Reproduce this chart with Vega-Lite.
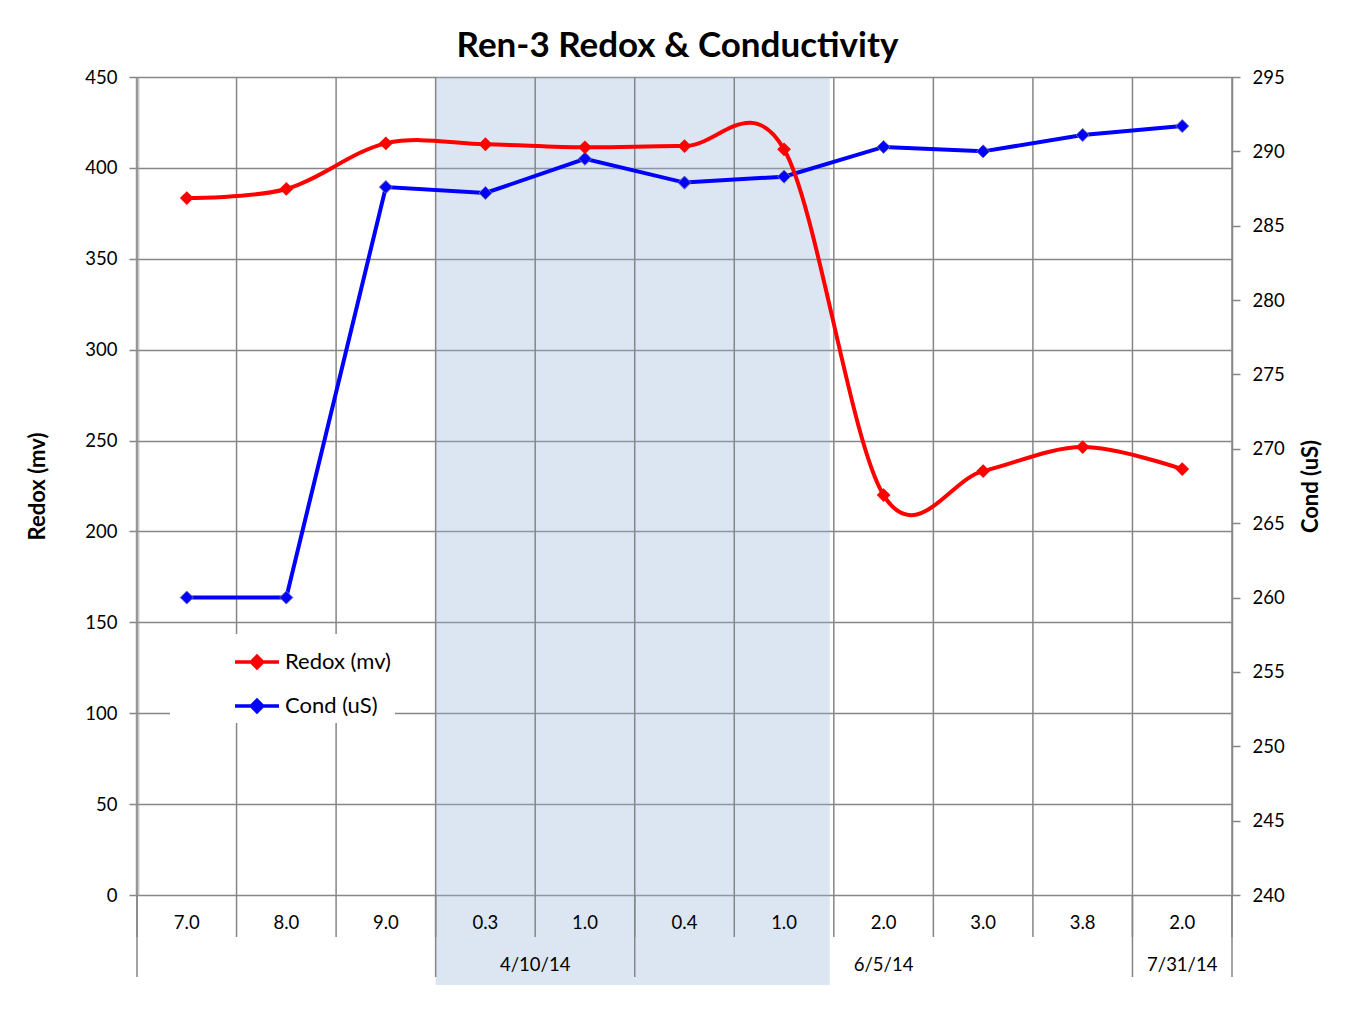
{
  "$schema": "https://vega.github.io/schema/vega-lite/v6.json",
  "width": 1095,
  "height": 818,
  "autosize": {"type": "none"},
  "padding": {"left": 137, "top": 77, "right": 121, "bottom": 134},
  "background": "white",
  "title": {"text": "Ren-3 Redox & Conductivity", "font": "Lato", "fontSize": 35, "fontWeight": "bold", "color": "black", "anchor": "middle", "offset": 4, "dx": -7},
  "config": {
    "view": {"stroke": null},
    "text": {"font": "Lato"},
    "axis": {"labelFont": "Lato", "titleFont": "Lato", "labelColor": "black", "titleColor": "black"}
  },
  "datasets": {
    "main": [
      {"idx": 0, "depth": "7.0", "redox": 383.4, "cond": 260.0},
      {"idx": 1, "depth": "8.0", "redox": 388.4, "cond": 260.0},
      {"idx": 2, "depth": "9.0", "redox": 413.5, "cond": 287.6},
      {"idx": 3, "depth": "0.3", "redox": 413.0, "cond": 287.2},
      {"idx": 4, "depth": "1.0", "redox": 411.3, "cond": 289.5},
      {"idx": 5, "depth": "0.4", "redox": 412.0, "cond": 287.9},
      {"idx": 6, "depth": "1.0", "redox": 410.2, "cond": 288.3},
      {"idx": 7, "depth": "2.0", "redox": 220.0, "cond": 290.3},
      {"idx": 8, "depth": "3.0", "redox": 233.2, "cond": 290.0},
      {"idx": 9, "depth": "3.8", "redox": 246.4, "cond": 291.1},
      {"idx": 10, "depth": "2.0", "redox": 234.3, "cond": 291.7}
    ],
    "bounds": [
      {"b": -0.5}, {"b": 0.5}, {"b": 1.5}, {"b": 2.5}, {"b": 3.5}, {"b": 4.5},
      {"b": 5.5}, {"b": 6.5}, {"b": 7.5}, {"b": 8.5}, {"b": 9.5}, {"b": 10.5}
    ],
    "groups": [{"b": -0.5}, {"b": 2.5}, {"b": 4.5}, {"b": 9.5}, {"b": 10.5}],
    "dates": [
      {"pos": 3.5, "date": "4/10/14"},
      {"pos": 7, "date": "6/5/14"},
      {"pos": 10, "date": "7/31/14"}
    ],
    "band": [{"start": 2.5, "end": 6.46}]
  },
  "layer": [
    {
      "layer": [
        {
          "data": {"name": "band"},
          "mark": {"type": "rect", "fill": "#9bb8da", "fillOpacity": 0.35},
          "encoding": {
            "x": {"field": "start", "type": "quantitative", "scale": {"domain": [-0.5, 10.5], "nice": false, "zero": false}, "axis": null},
            "x2": {"field": "end"},
            "y": {"datum": 450, "type": "quantitative", "scale": {"domain": [0, 450], "nice": false, "zero": false}, "axis": null},
            "y2": {"datum": -49.5}
          }
        },
        {
          "data": {"name": "bounds"},
          "mark": {"type": "rule", "stroke": "#868686", "strokeWidth": 1.5},
          "encoding": {
            "x": {"field": "b", "type": "quantitative", "scale": {"domain": [-0.5, 10.5], "nice": false, "zero": false}, "axis": null},
            "y": {"datum": 450, "type": "quantitative", "scale": {"domain": [0, 450], "nice": false, "zero": false}, "axis": null},
            "y2": {"datum": -23.1}
          }
        },
        {
          "data": {"name": "groups"},
          "mark": {"type": "rule", "stroke": "#868686", "strokeWidth": 1.5},
          "encoding": {
            "x": {"field": "b", "type": "quantitative", "scale": {"domain": [-0.5, 10.5], "nice": false, "zero": false}, "axis": null},
            "y": {"datum": 0, "type": "quantitative", "scale": {"domain": [0, 450], "nice": false, "zero": false}, "axis": null},
            "y2": {"datum": -45.1}
          }
        },
        {
          "data": {"name": "main"},
          "mark": {"type": "text", "font": "Lato", "fontSize": 18.5, "color": "black", "baseline": "middle", "align": "center"},
          "encoding": {
            "x": {"field": "idx", "type": "quantitative", "scale": {"domain": [-0.5, 10.5], "nice": false, "zero": false}, "axis": null},
            "y": {"datum": -15.4, "type": "quantitative", "scale": {"domain": [0, 450], "nice": false, "zero": false}, "axis": null},
            "text": {"field": "depth"}
          }
        },
        {
          "data": {"name": "dates"},
          "mark": {"type": "text", "font": "Lato", "fontSize": 18.5, "color": "black", "baseline": "middle", "align": "center"},
          "encoding": {
            "x": {"field": "pos", "type": "quantitative", "scale": {"domain": [-0.5, 10.5], "nice": false, "zero": false}, "axis": null},
            "y": {"datum": -38.5, "type": "quantitative", "scale": {"domain": [0, 450], "nice": false, "zero": false}, "axis": null},
            "text": {"field": "date"}
          }
        }
      ]
    },
    {
      "data": {"name": "main"},
      "layer": [
        {
          "mark": {"type": "line", "strokeWidth": 4},
          "encoding": {
            "x": {"field": "idx", "type": "quantitative", "scale": {"domain": [-0.5, 10.5], "nice": false, "zero": false}, "axis": null},
            "y": {
              "field": "cond", "type": "quantitative",
              "scale": {"domain": [240, 295], "nice": false, "zero": false},
              "axis": {
                "orient": "right", "title": "Cond (uS)", "values": [240, 245, 250, 255, 260, 265, 270, 275, 280, 285, 290, 295],
                "grid": false, "tickSize": 8, "tickColor": "#868686", "tickWidth": 1.5,
                "domainColor": "#868686", "domainWidth": 1.5, "labelPadding": 12, "labelFontSize": 18.5,
                "titleFontSize": 22, "titleFontWeight": "bold", "titleAngle": 270, "titleX": 78, "titleY": 409,
                "titleAlign": "center", "titleBaseline": "middle"
              }
            },
            "color": {
              "datum": "Cond (uS)", "type": "nominal",
              "scale": {"domain": ["Redox (mv)", "Cond (uS)"], "range": ["#ff0000", "#0000ff"]},
              "legend": {
                "title": null, "orient": "none", "legendX": 33, "legendY": 557,
                "fillColor": "white", "padding": 4, "rowPadding": 7,
                "symbolType": "M-1,0L1,0M0,-0.26L0.26,0L0,0.26L-0.26,0Z",
                "symbolSize": 1936, "symbolStrokeWidth": 3.5, "symbolOffset": 59,
                "labelFont": "Lato", "labelFontSize": 22, "labelColor": "black", "labelOffset": 4,
                "labelExpr": "datum.label + '\u00a0\u00a0\u00a0\u00a0\u00a0\u00a0\u00a0\u00a0\u00a0\u00a0\u00a0\u00a0'",
                "encode": {
                  "symbols": {
                    "update": {
                      "stroke": {"scale": "color", "field": "value"},
                      "fill": {"scale": "color", "field": "value"},
                      "fillOpacity": {"value": 1},
                      "strokeWidth": {"value": 3.5}
                    }
                  }
                }
              }
            }
          }
        },
        {
          "mark": {"type": "point", "shape": "diamond", "filled": true, "size": 170, "stroke": "#6a6ab0", "strokeWidth": 1, "opacity": 1},
          "encoding": {
            "x": {"field": "idx", "type": "quantitative", "scale": {"domain": [-0.5, 10.5], "nice": false, "zero": false}, "axis": null},
            "y": {"field": "cond", "type": "quantitative", "scale": {"domain": [240, 295], "nice": false, "zero": false}},
            "color": {"datum": "Cond (uS)", "type": "nominal"}
          }
        }
      ]
    },
    {
      "data": {"name": "main"},
      "layer": [
        {
          "mark": {"type": "line", "strokeWidth": 4, "interpolate": "cardinal", "tension": 0},
          "encoding": {
            "x": {
              "field": "idx", "type": "quantitative", "scale": {"domain": [-0.5, 10.5], "nice": false, "zero": false},
              "axis": {
                "title": "Depth (m)/Date", "labels": false, "ticks": false, "domain": false, "grid": false,
                "titleFontSize": 22, "titleFontWeight": "bold", "titleX": 556, "titleY": 103, "titleBaseline": "middle", "titleAlign": "center"
              }
            },
            "y": {
              "field": "redox", "type": "quantitative",
              "scale": {"domain": [0, 450], "nice": false, "zero": false},
              "axis": {
                "orient": "left", "title": "Redox (mv)", "values": [0, 50, 100, 150, 200, 250, 300, 350, 400, 450],
                "grid": true, "gridColor": "#868686", "gridWidth": 1.5,
                "tickSize": 8, "tickColor": "#868686", "tickWidth": 1.5,
                "domainColor": "#9a9a9a", "domainWidth": 4, "domainDash": [1, 1],
                "labelPadding": 12, "labelFontSize": 18.5,
                "titleFontSize": 22, "titleFontWeight": "bold", "titleAngle": 270, "titleX": -100, "titleY": 409,
                "titleAlign": "center", "titleBaseline": "middle"
              }
            },
            "color": {"datum": "Redox (mv)", "type": "nominal"}
          }
        },
        {
          "mark": {"type": "point", "shape": "diamond", "filled": true, "size": 190, "opacity": 1},
          "encoding": {
            "x": {"field": "idx", "type": "quantitative", "scale": {"domain": [-0.5, 10.5], "nice": false, "zero": false}, "axis": null},
            "y": {"field": "redox", "type": "quantitative", "scale": {"domain": [0, 450], "nice": false, "zero": false}},
            "color": {"datum": "Redox (mv)", "type": "nominal"}
          }
        }
      ]
    }
  ],
  "resolve": {"scale": {"y": "independent"}}
}
